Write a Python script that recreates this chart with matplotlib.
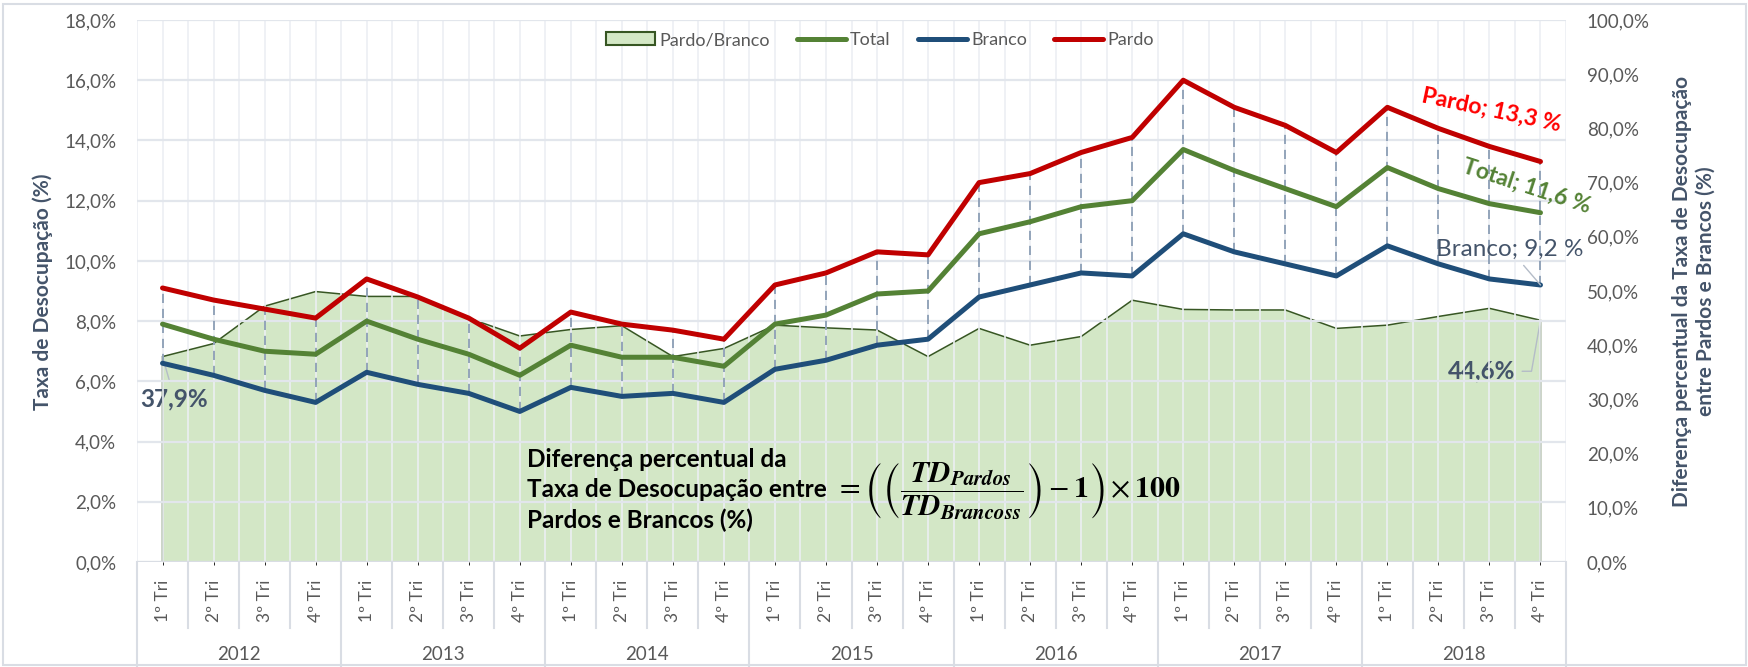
import numpy as np
import matplotlib
matplotlib.use("Agg")
import matplotlib.pyplot as plt
from matplotlib.patches import Patch, Rectangle
from matplotlib.lines import Line2D
import matplotlib.transforms as mtransforms

plt.rcParams['font.family'] = ['Lato', 'DejaVu Sans']
plt.rcParams['mathtext.fontset'] = 'stix'

# ---------------- data ----------------
years = ['2012', '2013', '2014', '2015', '2016', '2017', '2018']
quarters = ['1º Tri', '2º Tri', '3º Tri', '4º Tri']

pardo = [9.1, 8.7, 8.4, 8.1, 9.4, 8.8, 8.1, 7.1, 8.3, 7.9, 7.7, 7.4,
         9.2, 9.6, 10.3, 10.2, 12.6, 12.9, 13.6, 14.1, 16.0, 15.1, 14.5, 13.6,
         15.1, 14.4, 13.8, 13.3]
total = [7.9, 7.4, 7.0, 6.9, 8.0, 7.4, 6.9, 6.2, 7.2, 6.8, 6.8, 6.5,
         7.9, 8.2, 8.9, 9.0, 10.9, 11.3, 11.8, 12.0, 13.7, 13.0, 12.4, 11.8,
         13.1, 12.4, 11.9, 11.6]
branco = [6.6, 6.2, 5.7, 5.3, 6.3, 5.9, 5.6, 5.0, 5.8, 5.5, 5.6, 5.3,
          6.4, 6.7, 7.2, 7.4, 8.8, 9.2, 9.6, 9.5, 10.9, 10.3, 9.9, 9.5,
          10.5, 9.9, 9.4, 9.2]
pardo_branco = [37.9, 40.3, 47.2, 49.9, 49.0, 49.0, 45.0, 41.7, 42.9, 43.6, 37.9, 39.4,
                43.7, 43.2, 42.8, 37.9, 43.1, 40.0, 41.6, 48.3, 46.6, 46.5, 46.5, 43.1,
                43.7, 45.3, 46.8, 44.6]

left_ticks = [0, 2, 4, 6, 8, 10, 12, 14, 16, 18]
right_ticks = [0, 10, 20, 30, 40, 50, 60, 70, 80, 90, 100]

# ---------------- colours ----------------
C_PARDO = '#c00000'
C_TOTAL = '#548235'
C_BRANCO = '#1f4e79'
C_FILL = '#a9d18e'
C_EDGE = '#375623'
C_HL = '#8497b0'
C_TICK = '#595959'
C_TITLE = '#44546a'
C_GRID = '#e2e6ec'
C_VGRID = '#eceff3'
C_SEP = '#d9dde4'

W, H = 1748, 667
fig = plt.figure(figsize=(W / 100, H / 100), dpi=100)
L, R, T, B = 137, 1566, 20, 562
ax = fig.add_axes([L / W, 1 - B / H, (R - L) / W, (B - T) / H])
ax2 = ax.twinx()
ax.set_zorder(2)
ax2.set_zorder(1)
ax.patch.set_visible(False)

n = len(pardo)
x = np.arange(n)

# area (secondary axis)
ax2.fill_between(x, 0, pardo_branco, facecolor=C_FILL, alpha=0.5, linewidth=0)
ax2.plot(np.r_[x[0], x, x[-1]], np.r_[0, pardo_branco, 0], color=C_EDGE, lw=1.1,
         solid_joinstyle='miter')
ax2.set_ylim(0, 100)
ax2.set_yticks(right_ticks)
ax2.set_yticklabels([f"{v:.1f}%".replace('.', ',') for v in right_ticks])

# lines (primary axis)
ax.vlines(x, branco, pardo, colors=C_HL, linestyles=(0, (5.5, 3.5)), lw=1.2, zorder=2)
ax.plot(x, total, color=C_TOTAL, lw=3.6, zorder=3, solid_capstyle='round')
ax.plot(x, branco, color=C_BRANCO, lw=3.6, zorder=3, solid_capstyle='round')
ax.plot(x, pardo, color=C_PARDO, lw=3.6, zorder=4, solid_capstyle='round')

ax.set_xlim(-0.5, n - 0.5)
ax.set_ylim(0, 18)
ax.set_yticks(left_ticks)
ax.set_yticklabels([f"{v:.1f}%".replace('.', ',') for v in left_ticks])

# grid
ax.set_axisbelow(True)
ax.grid(True, axis='y', color=C_GRID, lw=1.6, zorder=0)
ax.set_xticks(np.arange(-0.5, n, 0.5), minor=True)
ax.grid(True, axis='x', which='minor', color=C_VGRID, lw=1.2, zorder=0)
ax.set_xticks([])

for a in (ax, ax2):
    for s in a.spines.values():
        s.set_visible(False)
ax.tick_params(axis='y', length=0, pad=15, labelsize=13.5, labelcolor=C_TICK)
ax2.tick_params(axis='y', length=0, pad=15, labelsize=13.5, labelcolor=C_TICK)
ax2.tick_params(axis='x', length=0)
ax2.set_xticks([])

# category axis (two levels)
trans = mtransforms.blended_transform_factory(ax.transData, ax.transAxes)
q_bottom = -(628 - B) / (B - T)
y_bottom = -(H - B) / (B - T)
q_center = -(601 - B) / (B - T)
y_center = -(655 - B) / (B - T)
labels_q = [q for _ in years for q in quarters]
for i, lab in enumerate(labels_q):
    ax.text(i, q_center, lab, transform=trans, rotation=90, ha='center', va='center',
            fontsize=12.5, color=C_TICK, clip_on=False)
for i in range(n + 1):
    xb = i - 0.5
    yb = y_bottom if i % 4 == 0 else q_bottom
    ax.add_line(Line2D([xb, xb], [0, yb], transform=trans, color=C_SEP, lw=1.5,
                       clip_on=False))
for j, yr in enumerate(years):
    ax.text(4 * j + 1.5, y_center, yr, transform=trans, ha='center', va='center',
            fontsize=13.5, color=C_TICK, clip_on=False)
ax.axhline(0, color=C_SEP, lw=1.5, zorder=1)

# axis titles
fig.text(43 / W, 1 - 292 / H, 'Taxa de Desocupação (%)', rotation=90, ha='center',
         va='center', fontsize=15, fontweight='bold', color=C_TITLE)
fig.text(1694 / W, 1 - 291 / H,
         'Diferença percentual da Taxa de Desocupação\nentre Pardos e Brancos (%)',
         rotation=90, ha='center', va='center', multialignment='center',
         fontsize=15, fontweight='bold', color=C_TITLE, linespacing=1.25)

# legend
handles = [Patch(facecolor='#d4e8c6', edgecolor=C_EDGE, lw=1.5),
           Line2D([], [], color=C_TOTAL, lw=3.6, solid_capstyle='round'),
           Line2D([], [], color=C_BRANCO, lw=3.6, solid_capstyle='round'),
           Line2D([], [], color=C_PARDO, lw=3.6, solid_capstyle='round')]
leg = ax.legend(handles, ['Pardo/Branco', 'Total', 'Branco', 'Pardo'], ncol=4,
                frameon=False, loc='center', bbox_to_anchor=(880 / W, 1 - 40 / H),
                bbox_transform=fig.transFigure, fontsize=13, handlelength=2.7,
                handletextpad=0.25, columnspacing=1.5, labelcolor=C_TICK)

# data labels
gray = '#b4bcc8'
ax2.annotate('37,9%', xy=(x[0], pardo_branco[0]), xytext=(12, -42),
             textcoords='offset pixels', ha='center', va='center', fontsize=17.5,
             fontweight='bold', color=C_TITLE,
             arrowprops=dict(arrowstyle='-', color=gray, lw=1.0, shrinkA=2, shrinkB=0))
ax2.annotate('44,6%', xy=(x[-1], pardo_branco[-1]), xytext=(-59, -51),
             textcoords='offset pixels', ha='center', va='center', fontsize=17.5,
             fontweight='bold', color=C_TITLE,
             arrowprops=dict(arrowstyle='-', color=gray, lw=1.0, shrinkA=3, shrinkB=0,
                             connectionstyle='angle,angleA=0,angleB=80,rad=0'))
ax.annotate('Branco; 9,2 %', xy=(x[-1], branco[-1]), xytext=(-31, 36),
            textcoords='offset pixels', ha='center', va='center', fontsize=17.5,
            color=C_TITLE, annotation_clip=False,
            arrowprops=dict(arrowstyle='-', color=gray, lw=1.0, shrinkA=3, shrinkB=0))
ax.annotate('Total; 11,6 %', xy=(x[-1], total[-1]), xytext=(-14, 26),
            textcoords='offset pixels', ha='center', va='center', fontsize=16.5,
            fontweight='bold', color=C_TOTAL, rotation=-18, annotation_clip=False)
ax.annotate('Pardo; 13,3 %', xy=(x[-1], pardo[-1]), xytext=(-49, 51),
            textcoords='offset pixels', ha='center', va='center', fontsize=16.5,
            fontweight='bold', color='#ff0000', rotation=-12, annotation_clip=False)

# formula
fig.text(527 / W, 1 - 490 / H,
         'Diferença percentual da\nTaxa de Desocupação entre\nPardos e Brancos (%)',
         ha='left', va='center', fontsize=17.5, fontweight='bold', color='black',
         linespacing=1.4, zorder=5)
fig.text(835 / W, 1 - 491 / H,
         r"$=\left(\left(\dfrac{\mathbfit{TD}_{\mathbfit{Pardos}}}{\mathbfit{TD}_{\mathbfit{Brancoss}}}\right)-\mathbf{1}\right)\times\mathbf{100}$",
         ha='left', va='center', fontsize=21.5, color='black', zorder=5)

# figure border
fig.patches.append(Rectangle((3 / W, 2 / H), 1 - 5 / W, 1 - 6 / H, transform=fig.transFigure,
                             fill=False, edgecolor='#d9dde4', lw=1.5))

fig.savefig('out.png', dpi=100)
